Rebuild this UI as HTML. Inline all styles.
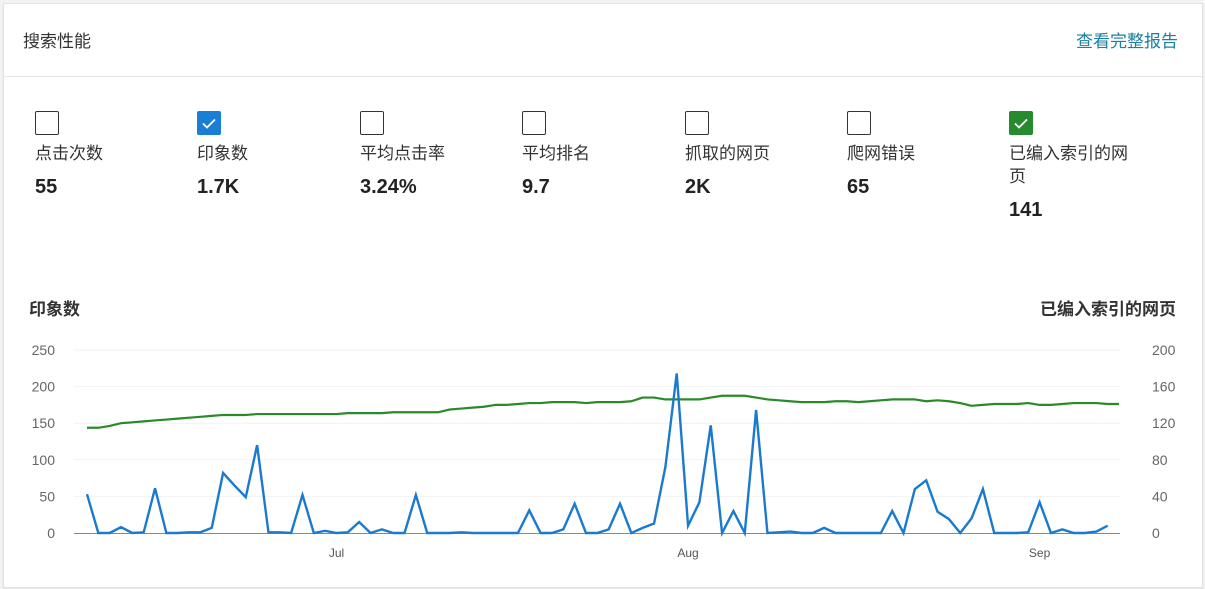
<!DOCTYPE html>
<html><head><meta charset="utf-8">
<style>
body{margin:0;width:1205px;height:589px;background:#f3f3f3;font-family:"Liberation Sans","Noto Sans CJK SC",sans-serif;position:relative;overflow:hidden}
.card{position:absolute;left:3px;top:3px;width:1198px;height:583px;background:#fff;border:1px solid #e3e3e3;box-shadow:0 1px 2px rgba(0,0,0,.08)}
.abs{position:absolute;white-space:nowrap}
.cb{position:absolute;top:111px;width:22px;height:22px;border:1px solid #333;border-radius:2px;background:#fff}
.cb.on{border:none;width:24px;height:24px}
.lbl{position:absolute;top:142px;font-size:17px;color:#333;line-height:23px}
.val{position:absolute;top:176px;font-size:20px;font-weight:bold;color:#222}
</style></head><body>
<div class="card"></div>
<div class="abs" style="left:23px;top:27px;font-size:17px;color:#333">搜索性能</div>
<div class="abs" style="right:27px;top:27px;font-size:17px;color:#1a7fa0;cursor:pointer">查看完整报告</div>
<div class="abs" style="left:4px;top:76px;width:1198px;height:1px;background:#e6e6e6"></div>

<div class="cb" style="left:35px"></div>
<div class="lbl" style="left:35px">点击次数</div>
<div class="val" style="left:35px">55</div>

<div class="cb on" style="left:197px;background:#1a7fd4"><svg width="24" height="24"><path d="M6 12.5l4 4 8-8" stroke="#fff" stroke-width="1.8" fill="none"/></svg></div>
<div class="lbl" style="left:197px">印象数</div>
<div class="val" style="left:197px">1.7K</div>

<div class="cb" style="left:360px"></div>
<div class="lbl" style="left:360px">平均点击率</div>
<div class="val" style="left:360px">3.24%</div>

<div class="cb" style="left:522px"></div>
<div class="lbl" style="left:522px">平均排名</div>
<div class="val" style="left:522px">9.7</div>

<div class="cb" style="left:685px"></div>
<div class="lbl" style="left:685px">抓取的网页</div>
<div class="val" style="left:685px">2K</div>

<div class="cb" style="left:847px"></div>
<div class="lbl" style="left:847px">爬网错误</div>
<div class="val" style="left:847px">65</div>

<div class="cb on" style="left:1009px;background:#268a2e"><svg width="24" height="24"><path d="M6 12.5l4 4 8-8" stroke="#fff" stroke-width="1.8" fill="none"/></svg></div>
<div class="lbl" style="left:1009px;white-space:normal;width:130px">已编入索引的网页</div>
<div class="val" style="left:1009px;top:199px">141</div>

<div class="abs" style="left:29px;top:295px;font-size:17px;font-weight:bold;color:#333">印象数</div>
<div class="abs" style="right:29px;top:295px;font-size:17px;font-weight:bold;color:#333">已编入索引的网页</div>

<svg id="chart" class="abs" style="left:0;top:0" width="1205" height="589"></svg>
<script>
const categoryCount = 92;
const startDate = [2019, 5, 9];
const impressions = [53,0,0,8,0,1,61,0,0,1,1,7,82,65,49,120,1,1,0,52,0,3,0,1,15,0,5,0,0,52,0,0,0,1,0,0,0,0,0,31,0,0,5,40,0,0,5,40,0,7,13,90,218,10,42,147,0,30,0,168,0,1,2,0,0,7,0,0,0,0,0,30,0,60,72,29,19,0,20,60,0,0,0,1,42,0,5,0,0,2,10];
const indexedPages = [115,115,117,120,121,122,123,124,125,126,127,128,129,129,129,130,130,130,130,130,130,130,130,131,131,131,131,132,132,132,132,132,135,136,137,138,140,140,141,142,142,143,143,143,142,143,143,143,144,148,148,146,146,146,146,148,150,150,150,148,146,145,144,143,143,143,144,144,143,144,145,146,146,146,144,145,144,142,139,140,141,141,141,142,140,140,141,142,142,142,141,141];
const leftTicks = [0,50,100,150,200,250];
const rightTicks = [0,40,80,120,160,200];
const monthLabels = ["Jul","Aug","Sep"];
const monthIndex = [22,53,84];

const svg = document.getElementById('chart');
const NS = 'http://www.w3.org/2000/svg';
const x0 = 87, x1 = 1119, yBase = 533, yTop = 350;
const xs = i => x0 + i * (x1 - x0) / (categoryCount - 1);
const yL = v => yBase - v / 250 * (yBase - yTop);
const yR = v => yBase - v / 200 * (yBase - yTop);
function mk(tag, attrs){const e=document.createElementNS(NS,tag);for(const k in attrs)e.setAttribute(k,attrs[k]);svg.appendChild(e);return e;}

leftTicks.forEach((t,i)=>{
  if(t>0){const g=mk('line',{x1:74,x2:1120,y1:yL(t),y2:yL(t),stroke:'#f2f2f2','stroke-width':1});
  
  }
  const a=mk('text',{x:55,y:yL(t)+5,'text-anchor':'end','font-size':14,fill:'#666','font-family':'Liberation Sans, sans-serif'});
  a.textContent=t;
  
  
});
rightTicks.forEach(t=>{
  const a=mk('text',{x:1152,y:yR(t)+5,'text-anchor':'start','font-size':14,fill:'#666','font-family':'Liberation Sans, sans-serif'});
  a.textContent=t;
  
  
});
const base=mk('line',{x1:74,x2:1120,y1:yBase+0.5,y2:yBase+0.5,stroke:'#888','stroke-width':1});


monthLabels.forEach((m,i)=>{
  const a=mk('text',{x:xs(monthIndex[i]),y:557,'text-anchor':'middle','font-size':12,fill:'#555','font-family':'Liberation Sans, sans-serif'});
  a.textContent=m;
  
  
});
const gp=mk('polyline',{points:indexedPages.map((v,i)=>xs(i)+','+yR(v)).join(' '),fill:'none',stroke:'#2a8a2a','stroke-width':2.2,'stroke-linejoin':'round'});


const bp=mk('polyline',{points:impressions.map((v,i)=>xs(i)+','+yL(v)).join(' '),fill:'none',stroke:'#1a7ad0','stroke-width':2.4,'stroke-linejoin':'miter'});


</script>
</body></html>
